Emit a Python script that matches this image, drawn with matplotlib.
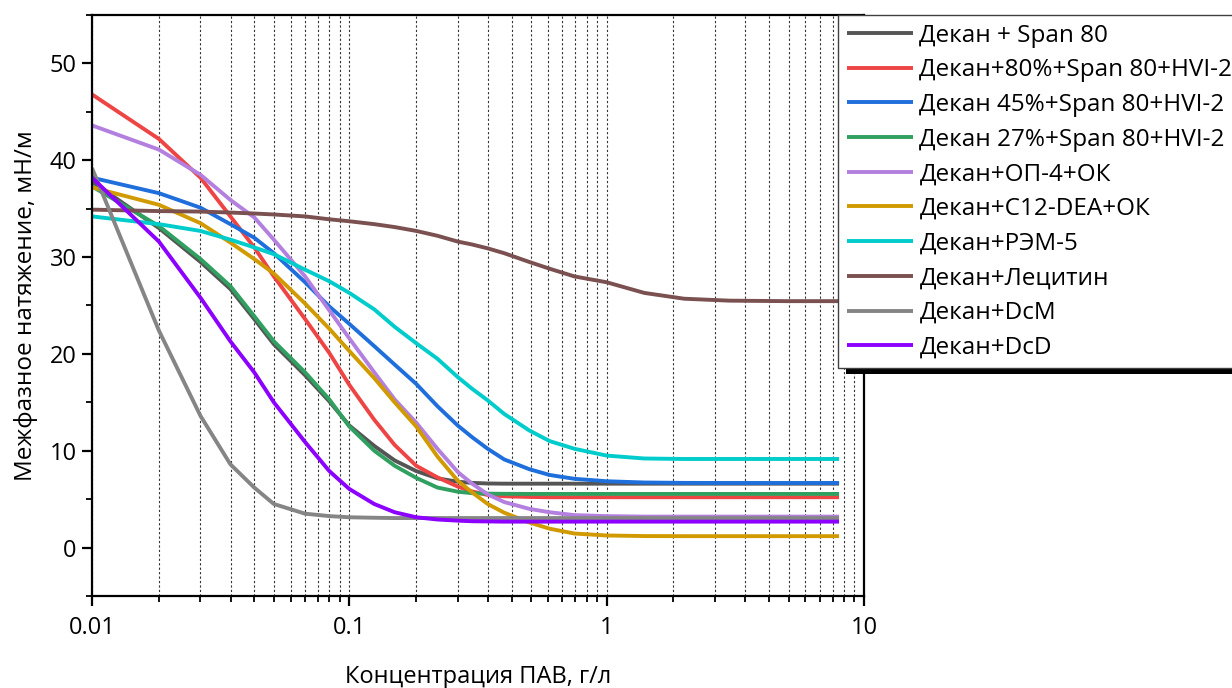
import matplotlib
matplotlib.use("Agg")
import matplotlib.pyplot as plt
from matplotlib.ticker import FixedLocator, MultipleLocator, NullFormatter
from matplotlib.patches import Rectangle

plt.rcParams['font.family'] = ['Open Sans', 'DejaVu Sans']

# concentration, g/l (shared x for all curves)
conc = [0.01, 0.0182, 0.0264, 0.0345, 0.0427, 0.0509, 0.0673, 0.0836, 0.1,
        0.125, 0.15, 0.182, 0.22, 0.264, 0.3, 0.345, 0.4, 0.5, 0.6, 0.75,
        1.0, 1.4, 2.0, 3.0, 5.0, 8.0]

# interfacial tension, mN/m
span80 = [37.8, 33.0, 29.5, 26.7, 23.6, 21.0, 17.8, 15.1, 12.6, 10.5, 9.0, 7.9, 7.15,
          6.8, 6.68, 6.62, 6.6, 6.6, 6.6, 6.6, 6.6, 6.6, 6.6, 6.6, 6.6, 6.6]
hvi80 = [46.8, 42.2, 38.2, 34.2, 31.0, 28.0, 23.6, 20.1, 16.8, 13.2, 10.6, 8.45, 7.25,
         6.3, 5.8, 5.43, 5.3, 5.23, 5.2, 5.2, 5.2, 5.2, 5.2, 5.2, 5.2, 5.2]
hvi45 = [38.2, 36.6, 35.1, 33.4, 32.0, 30.4, 27.4, 24.9, 23.1, 20.8, 18.9, 16.9, 14.6,
         12.6, 11.4, 10.2, 9.1, 8.1, 7.5, 7.1, 6.85, 6.72, 6.68, 6.67, 6.67, 6.67]
hvi27 = [37.3, 33.2, 29.8, 27.0, 23.9, 21.3, 18.1, 15.3, 12.5, 10.0, 8.45, 7.2, 6.2,
         5.77, 5.62, 5.57, 5.55, 5.54, 5.54, 5.54, 5.54, 5.54, 5.54, 5.54, 5.54, 5.54]
op4 = [43.6, 41.1, 38.5, 35.9, 34.1, 31.8, 28.0, 24.5, 21.6, 18.1, 15.3, 12.9, 10.2,
       7.8, 6.6, 5.5, 4.7, 4.0, 3.65, 3.35, 3.25, 3.2, 3.2, 3.2, 3.2, 3.2]
c12dea = [37.2, 35.4, 33.5, 31.5, 29.8, 28.3, 25.2, 22.6, 20.3, 17.5, 15.0, 12.5, 9.4,
          6.9, 5.7, 4.5, 3.6, 2.6, 1.95, 1.45, 1.25, 1.19, 1.18, 1.18, 1.18, 1.18]
rem5 = [34.2, 33.4, 32.7, 31.8, 31.0, 30.3, 28.7, 27.5, 26.3, 24.6, 22.8, 21.1, 19.5,
        17.6, 16.4, 15.2, 13.8, 12.1, 11.0, 10.2, 9.5, 9.2, 9.15, 9.15, 9.15, 9.15]
lecithin = [34.9, 34.75, 34.7, 34.6, 34.5, 34.4, 34.2, 33.9, 33.7, 33.4, 33.1, 32.7, 32.2,
            31.6, 31.3, 30.9, 30.4, 29.5, 28.8, 28.0, 27.4, 26.3, 25.7, 25.5, 25.45, 25.45]
dcm = [39.2, 22.4, 13.6, 8.6, 6.2, 4.5, 3.5, 3.25, 3.13, 3.08, 3.05, 3.05, 3.05,
       3.05, 3.05, 3.05, 3.05, 3.05, 3.05, 3.05, 3.05, 3.05, 3.05, 3.05, 3.05, 3.05]
dcd = [38.2, 31.6, 25.8, 21.3, 18.1, 15.0, 10.9, 7.9, 6.05, 4.5, 3.65, 3.13, 2.9,
       2.78, 2.72, 2.7, 2.68, 2.68, 2.68, 2.68, 2.68, 2.68, 2.68, 2.68, 2.68, 2.68]

labels = ['Декан + Span 80', 'Декан+80%+Span 80+HVI-2', 'Декан 45%+Span 80+HVI-2',
          'Декан 27%+Span 80+HVI-2', 'Декан+ОП-4+ОК', 'Декан+C12-DEA+ОК',
          'Декан+РЭМ-5', 'Декан+Лецитин', 'Декан+DcM', 'Декан+DcD']
series = [span80, hvi80, hvi45, hvi27, op4, c12dea, rem5, lecithin, dcm, dcd]
colors = ['#555555', '#EE4444', '#1E6FDC', '#30A060', '#B380E0', '#D09A00',
          '#00CCCC', '#7A5050', '#858585', '#8B00FF']

fig = plt.figure(figsize=(12.32, 6.88), dpi=100)
ax = fig.add_axes([92 / 1232, 1 - 596 / 688, (864 - 92) / 1232, (596 - 15) / 688])

for ys, lab, col in zip(series, labels, colors):
    ax.plot(conc, ys, color=col, lw=2.8, label=lab, solid_capstyle='butt')

ax.set_xscale('log')
ax.set_xlim(0.01, 10)
ax.set_ylim(-5, 55)

# Origin-style minor ticks: 10 linear steps per decade
minors = []
for d in [0.01, 0.1, 1.0]:
    for k in range(1, 11):
        minors.append(d * (1 + k * 9 / 11))
ax.xaxis.set_major_locator(FixedLocator([0.01, 0.1, 1, 10]))
ax.set_xticklabels(['0.01', '0.1', '1', '10'])
ax.xaxis.set_minor_locator(FixedLocator(minors))
ax.xaxis.set_minor_formatter(NullFormatter())
ax.yaxis.set_major_locator(MultipleLocator(10))
ax.yaxis.set_minor_locator(MultipleLocator(5))

ax.grid(True, axis='x', which='both', color='#333333', lw=0.8, linestyle=(0, (2, 2)))
ax.set_axisbelow(True)

for s in ax.spines.values():
    s.set_linewidth(1.6)
ax.tick_params(which='major', length=7.5, width=1.6, labelsize=17, direction='out')
ax.tick_params(which='minor', length=4.5, width=1.3, direction='out')
ax.tick_params(axis='x', pad=7)

ax.set_xlabel('Концентрация ПАВ, г/л', fontsize=17, labelpad=18)
ax.set_ylabel('Межфазное натяжение, мН/м', fontsize=17.5, labelpad=8)

handles, labs = ax.get_legend_handles_labels()
leg = fig.legend(handles, labs, loc='upper left', bbox_to_anchor=(838 / 1232, 1 - 15 / 688),
                 fontsize=17.5, frameon=True, fancybox=False, edgecolor='#404040',
                 framealpha=1, borderpad=0.35, borderaxespad=0, handlelength=2.75,
                 handletextpad=0.25, labelspacing=0.44)
leg.get_frame().set_linewidth(1.0)

fig.canvas.draw()
bb = leg.get_window_extent().transformed(fig.transFigure.inverted())
shadow = Rectangle((bb.x0 + 8 / 1232, bb.y0 - 6 / 688), bb.width, bb.height,
                   transform=fig.transFigure, facecolor='black', edgecolor='none', zorder=4.9)
fig.add_artist(shadow)

fig.savefig('out.png', dpi=100)
